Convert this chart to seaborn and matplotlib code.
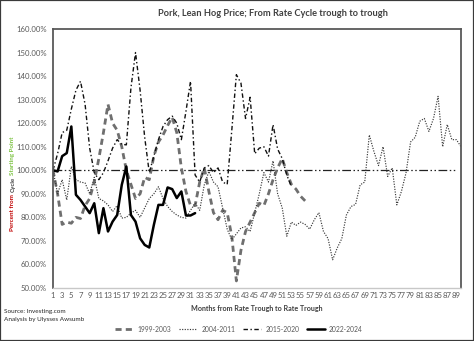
import numpy as np
import pandas as pd
import seaborn as sns
import matplotlib
matplotlib.use("Agg")
import matplotlib.pyplot as plt
from matplotlib.patches import Rectangle
from matplotlib.ticker import FuncFormatter, FixedLocator

# Lean hog price as % of the price at the start of each rate cycle (month 1 = 100%)
cycle_1999_2003 = [100, 90, 77, 78, 77.5, 80, 79.5, 85, 88, 95,
                   105, 116, 128, 120, 117, 110, 100, 94, 88, 90,
                   97, 96, 106, 112, 115, 119, 122.5, 116, 101, 91,
                   85, 85, 95, 101, 91, 82, 79, 83, 82, 72,
                   53, 66, 74, 78, 82, 86, 85, 90, 96, 101,
                   105, 99, 94, 92, 89, 87]
cycle_2004_2011 = [100, 90, 96, 87.4, 101.6, 96, 95, 94.6, 90, 97,
                   88, 87, 85.3, 82.5, 85, 79.7, 80, 81.8, 83, 80,
                   84, 88, 90, 93, 88, 84.6, 82.5, 81, 80, 79.7,
                   83, 86, 83, 93.8, 99.5, 95, 93, 84, 75, 70.5,
                   73, 75.5, 76, 74, 82, 90, 99, 95, 104, 90,
                   84, 72, 78, 76.6, 78, 77, 75, 79, 82, 74,
                   71, 62, 67, 71, 81, 84.6, 85.5, 93.8, 95, 115,
                   108, 102, 110, 97.4, 101, 85.3, 91, 98.8, 112, 114,
                   120.8, 122, 116.5, 122, 131.4, 110, 119.4, 113, 113, 110]
cycle_2015_2020 = [100, 107, 116, 117, 126, 134, 137.8, 128, 109.4, 99,
                   96, 99, 104, 109.4, 113, 111, 110.8, 135, 150, 134,
                   114, 99, 106, 113, 118.6, 121.5, 123, 120, 113, 125,
                   137.8, 98, 95, 101, 102, 99, 101, 95, 94, 117,
                   140.6, 137, 122, 131, 107, 109.4, 110, 106, 119.4, 109,
                   105, 98, 93]
cycle_2022_2024 = [100, 99.5, 106, 107.3, 118.6, 89.6, 87.4, 84.6, 81.8, 86,
                   73.3, 83.9, 74, 78.2, 81, 93.8, 101.6, 81, 78.2, 71.1,
                   68.3, 67.2, 76.8, 85.3, 85.3, 92.7, 92, 88.2, 91, 80.8,
                   80.8, 81.8]

cycle_names = ["1999-2003", "2004-2011", "2015-2020", "2022-2024"]
cycle_values = [cycle_1999_2003, cycle_2004_2011, cycle_2015_2020, cycle_2022_2024]
start_level = 100
month_ticks = list(range(1, 90, 2))
pct_ticks = list(range(50, 161, 10))

styles = {
    "1999-2003": dict(color="#6f6f6f", linewidth=2.0, linestyle=(0, (2.2, 1.5))),
    "2004-2011": dict(color="#3a3a3a", linewidth=0.85, linestyle=(0, (1, 1.2))),
    "2015-2020": dict(color="#111111", linewidth=1.0, linestyle=(0, (3.2, 1.8, 1, 1.8))),
    "2022-2024": dict(color="#000000", linewidth=1.8, linestyle="-"),
}

frames = []
for name, vals in zip(cycle_names, cycle_values):
    frames.append(pd.DataFrame({"month": np.arange(1, len(vals) + 1),
                                "pct": vals, "cycle": name}))
df = pd.concat(frames, ignore_index=True)

sns.set_theme(style="white")
plt.rcParams["font.family"] = ["Lato", "DejaVu Sans"]

W, H = 474, 341
fig = plt.figure(figsize=(W / 100, H / 100), dpi=100)
ax = fig.add_axes([53 / W, 1 - 288 / H, (461 - 53) / W, (288 - 29) / H])

# starting-point reference level
ax.hlines(start_level, 1, 89, colors="#222222", linewidth=0.9,
          linestyles=[(0, (7, 2, 1.2, 2, 1.2, 2))], zorder=1)

for name in cycle_names:
    sub = df[df["cycle"] == name]
    sns.lineplot(data=sub, x="month", y="pct", ax=ax, label=name,
                 errorbar=None, zorder=2, **styles[name])

ax.set_xlim(1, 90)
ax.set_ylim(50, 160)
ax.xaxis.set_major_locator(FixedLocator(month_ticks))
ax.yaxis.set_major_locator(FixedLocator(pct_ticks))
ax.yaxis.set_major_formatter(FuncFormatter(lambda v, p: f"{v:.2f}%"))
ax.tick_params(axis="both", length=0, labelsize=5.6, colors="#595959")
ax.tick_params(axis="y", pad=4.5)
ax.tick_params(axis="x", pad=3)
ax.set_xlabel("")
ax.set_ylabel("")
ax.grid(False)
for side in ["left", "top", "right"]:
    ax.spines[side].set_color("#595959")
    ax.spines[side].set_linewidth(1.3)
ax.spines["bottom"].set_color("#c8c8c8")
ax.spines["bottom"].set_linewidth(1.0)

ax.get_legend().remove()
handles, labels = ax.get_legend_handles_labels()
fig.legend(handles, labels, loc="center", bbox_to_anchor=(239 / W, 1 - 329 / H),
           ncol=4, frameon=False, fontsize=4.9, handlelength=2.7,
           columnspacing=1.1, handletextpad=0.6, labelcolor="#595959")

fig.text(273 / W, 1 - 13 / H, "Pork, Lean Hog Price; From Rate Cycle trough to trough",
         ha="center", va="center", fontsize=6.7, fontweight="bold", color="#404040")
fig.text(257 / W, 1 - 309 / H, "Months from Rate Trough to Rate Trough",
         ha="center", va="center", fontsize=5.1, fontweight="bold", color="#404040")
fig.text(4 / W, 1 - 312 / H, "Source: Investing.com", ha="left", va="center",
         fontsize=4.6, color="#262626")
fig.text(4 / W, 1 - 320 / H, "Analysis by Ulysses Awsumb", ha="left", va="center",
         fontsize=4.6, color="#262626")

# multi-coloured vertical axis title
fig.canvas.draw()
renderer = fig.canvas.get_renderer()
cur = 1 - 231 / H
for txt, col in [("Percent from", "#c00000"), ("Cycle", "#404040"), ("Starting Point", "#7cc242")]:
    t = fig.text(13 / W, cur, txt, rotation=90, color=col, fontsize=4.5,
                 fontweight="bold", ha="center", va="bottom")
    bb = t.get_window_extent(renderer)
    cur += bb.height / fig.bbox.height + 1.8 / H

fig.patches.append(Rectangle((0, 0), 1, 1, transform=fig.transFigure, fill=False,
                             edgecolor="#3a3a3a", linewidth=1.6))

fig.savefig("out.png", dpi=100)
